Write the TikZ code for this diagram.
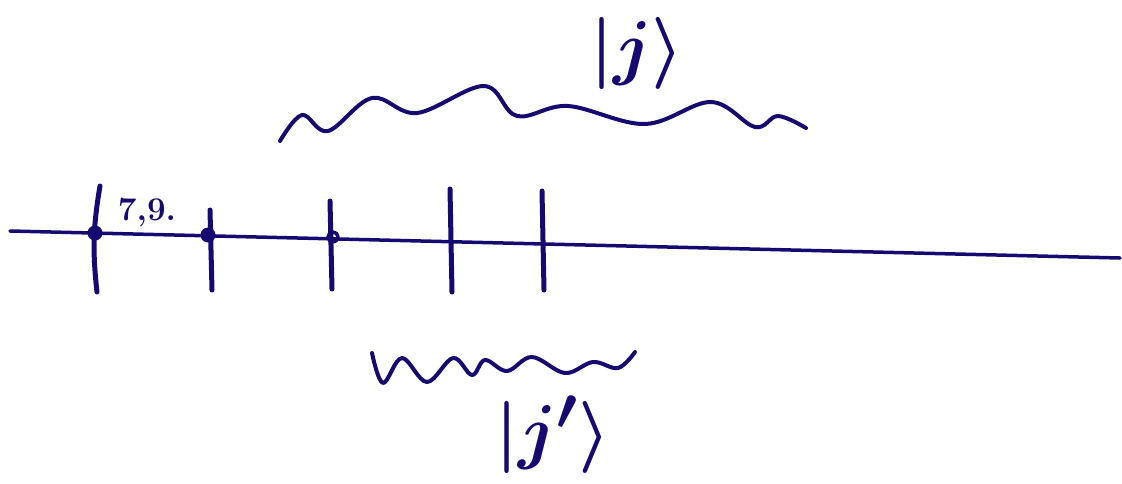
\documentclass[tikz,border=0pt]{standalone}
\usepackage{amsmath}
\usepackage{tikz}
\usetikzlibrary{calc, positioning}

\definecolor{ink}{RGB}{22,10,112}
\tikzset{
  pen/.style={draw=ink, line width=3.5pt, line cap=round, line join=round},
  hashmark/.style={pen, line width=5pt},
  wave/.style={pen, line width=4pt},
  ket/.style={text=ink, inner sep=0pt, font=\Huge\boldmath, scale=2.9}
}

\begin{document}
\begin{tikzpicture}[x=1pt, y=-1pt]
    \useasboundingbox (0,0) rectangle (1122,483);

    % Axis
    \coordinate (axisL) at (10,231);
    \coordinate (axisR) at (1120,258);
    \draw[pen] (axisL) -- (axisR);

    % Marks on the axis
    \draw[hashmark] (100,186) to[bend right=8] (97,292);
    \foreach \x/\top/\bot in {210/210/290, 330/201/289, 450/189/292, 542/191/290}
        \draw[hashmark] (\x,\top) -- (\x+2,\bot);

    % Points
    \fill[ink] (95,233) circle (7.5);
    \fill[ink] (208,235) circle (7.5);
    \draw[pen] (333,237) circle (5);
    \node[text=ink, font=\huge\bfseries, scale=1.6] (lbl) at (147,212) {7,9.};

    % Upper wave
    \draw[wave] plot[smooth, tension=0.6] coordinates {(280,141) (302,115) (328,131) (372,98)
        (417,113) (484,86) (517,116) (568,106) (645,124) (711,102) (755,127) (778,116) (806,128)};
    \node[ket] (ketj) at (637,53) {$|j\rangle$};

    % Lower wave
    \draw[wave] plot[smooth, tension=0.6] coordinates {(372,353) (383,383) (402,358) (427,382)
        (453,358) (472,375) (485,360) (507,371) (532,357) (565,373) (593,362) (618,368) (635,352)};
    \node[ket] (ketjp) at (553,435) {$|j'\rangle$};
\end{tikzpicture}
\end{document}
